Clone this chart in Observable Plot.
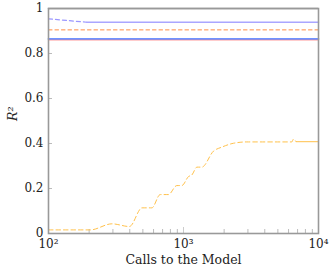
<!DOCTYPE html>
<html>
<head>
<meta charset="utf-8">
<script src="https://cdn.jsdelivr.net/npm/d3@7"></script>
<script src="https://cdn.jsdelivr.net/npm/@observablehq/plot@0.6"></script>
<style>
  html, body { margin: 0; padding: 0; background: #fff; }
  #chart svg, #chart svg text { font-family: "DejaVu Serif", serif !important; }
</style>
</head>
<body>
<div id="chart"></div>
<script>
// Yellow series (estimate, dashed) and its solid continuation
const callsEst = [100, 204, 295, 398, 493, 583, 672, 774, 892, 973, 1089, 1153, 1257, 1368, 1668, 1923, 2344, 2950, 6355, 6500, 6840];
const r2Est    = [0.016, 0.016, 0.043, 0.031, 0.114, 0.114, 0.173, 0.173, 0.213, 0.213, 0.253, 0.26, 0.295, 0.295, 0.366, 0.384, 0.401, 0.407, 0.407, 0.419, 0.408];
const callsFinal = [6840, 10000];
const r2Final    = [0.408, 0.408];

// Lavender series
const callsLavDash = [100, 192];
const r2LavDash    = [0.954, 0.939];
const callsLavSolid = [192, 10000];
const r2LavSolid    = [0.939, 0.939];

// Horizontal reference lines
const xSpan = [100, 10000];
const r2Orange = 0.905;
const r2Blue = 0.865;
const r2Red = 0.861;
const r2Top = 1.0;

// Ticks
const majorTicks = [100, 1000, 10000];
const majorLabels = ["10²", "10³", "10⁴"];
const minorTicks = [200, 300, 400, 500, 600, 700, 800, 900, 2000, 3000, 4000, 5000, 6000, 7000, 8000, 9000];
const yTicks = [0, 0.2, 0.4, 0.6, 0.8, 1];
const yLabels = ["0", "0.2", "0.4", "0.6", "0.8", "1"];
const xTitle = "Calls to the Model";
const yTitle = "R²";

const pts = (xs, ys) => xs.map((x, i) => ({x, y: ys[i]}));
const hline = (v) => xSpan.map(x => ({x, y: v}));

const chart = Plot.plot({
  width: 333,
  height: 273,
  marginLeft: 48,
  marginRight: 15,
  marginTop: 8,
  marginBottom: 40,
  style: {fontFamily: "DejaVu Serif", fontSize: "12px", background: "#fff", color: "#222"},
  x: {type: "log", domain: [100, 10000]},
  y: {domain: [0, 1]},
  marks: [
    // axes tick labels
    Plot.axisX({ticks: majorTicks, tickSize: 0, tickPadding: 6, tickFormat: (d) => majorLabels[majorTicks.indexOf(d)], label: null, fontSize: 12}),
    Plot.axisX({ticks: minorTicks, tickSize: 4, dy: -4, text: null, stroke: "#bbb", label: null}),
    Plot.axisX({ticks: [1000], tickSize: 6, dy: -6, text: null, stroke: "#ccc", label: null}),
    Plot.axisY({ticks: yTicks, tickSize: 0, tickPadding: 5, tickFormat: (d) => yLabels[yTicks.indexOf(d)], label: null, fontSize: 12}),
    Plot.axisY({ticks: yTicks.slice(1, 5), tickSize: 4, dx: 4, text: null, stroke: "#bbb", label: null}),
    // top gray dashed
    Plot.line(hline(r2Top), {x: "x", y: "y", stroke: "#999", strokeWidth: 1.5, strokeDasharray: "1,1"}),
    // reference lines
    Plot.line(hline(r2Orange), {x: "x", y: "y", stroke: "#ff8c42", strokeWidth: 1, strokeDasharray: "3.5,3"}),
    Plot.line(hline(r2Red), {x: "x", y: "y", stroke: "#ff4040", strokeWidth: 1}),
    Plot.line(hline(r2Blue), {x: "x", y: "y", stroke: "#6f93ff", strokeWidth: 1.8}),
    // lavender
    Plot.line(pts(callsLavDash, r2LavDash), {x: "x", y: "y", stroke: "#9b97ff", strokeWidth: 1.2, strokeDasharray: "4,3"}),
    Plot.line(pts(callsLavSolid, r2LavSolid), {x: "x", y: "y", stroke: "#aaa6ff", strokeWidth: 1.5}),
    // yellow
    Plot.line(pts(callsEst, r2Est), {x: "x", y: "y", stroke: "#ffc14a", strokeWidth: 1, strokeDasharray: "4.5,3", curve: "monotone-x"}),
    Plot.line(pts(callsFinal, r2Final), {x: "x", y: "y", stroke: "#ffc14a", strokeWidth: 1}),
    // frame
    Plot.frame({stroke: "#999", strokeWidth: 1.6}),
    // titles
    Plot.text([xTitle], {frameAnchor: "bottom", text: (d) => d, dy: 30, fontSize: 12.5}),
    Plot.text([yTitle], {frameAnchor: "left", text: (d) => d, dx: -36, rotate: -90, fontStyle: "italic", fontSize: 12.5})
  ]
});
document.getElementById("chart").appendChild(chart);
</script>
</body>
</html>
